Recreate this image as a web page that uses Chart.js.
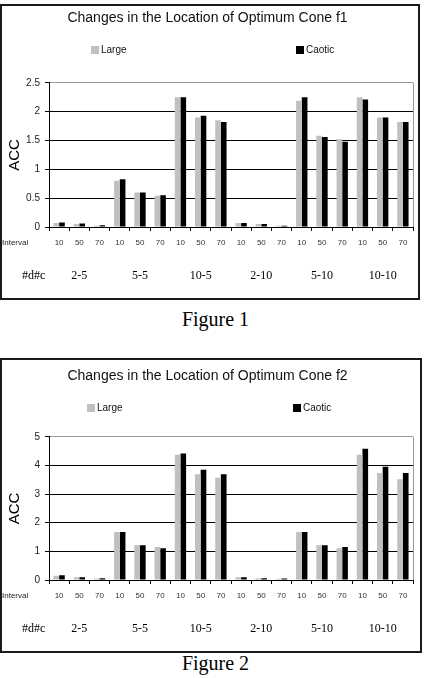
<!DOCTYPE html>
<html>
<head>
<meta charset="utf-8">
<title>Changes in the Location of Optimum Cone</title>
<script src="https://cdn.jsdelivr.net/npm/chart.js@4.4.1/dist/chart.umd.min.js"></script>
<style>
  body { margin: 0; background: #fff; width: 424px; height: 678px; position: relative; overflow: hidden; }
  .box { position: absolute; border: 2px solid #1a1a1a; background: #fff; }
  .box canvas { display: block; }
  .caption { position: absolute; left: 0; width: 431px; text-align: center;
    font-family: "Liberation Serif", "Times New Roman", serif; font-size: 20px; line-height: 20px; color: #000; }
</style>
</head>
<body>
<div class="box" style="left:0;top:4px;width:416px;height:292px;"><canvas id="f1"></canvas></div>
<div class="caption" style="top:309px;">Figure 1</div>
<div class="box" style="left:0;top:358px;width:418px;height:291px;"><canvas id="f2"></canvas></div>
<div class="caption" style="top:653px;">Figure 2</div>
<script>
const intervals = ['10', '50', '70'];
const groups = ['2-5', '5-5', '10-5', '2-10', '5-10', '10-10'];
const seriesNames = ['Large', 'Caotic'];
const rowTitleInterval = 'Interval';
const rowTitleGroup = '#d#c';

// f1
const f1Large  = [0.07, 0.05, 0.02, 0.80, 0.60, 0.54, 2.25, 1.90, 1.85, 0.07, 0.05, 0.02, 2.19, 1.58, 1.52, 2.25, 1.90, 1.82];
const f1Caotic = [0.08, 0.06, 0.03, 0.83, 0.60, 0.55, 2.25, 1.93, 1.82, 0.07, 0.05, 0.02, 2.25, 1.56, 1.48, 2.21, 1.90, 1.82];
// f2
const f2Large  = [0.15, 0.10, 0.05, 1.68, 1.21, 1.15, 4.37, 3.69, 3.57, 0.10, 0.06, 0.04, 1.68, 1.21, 1.11, 4.37, 3.74, 3.52];
const f2Caotic = [0.17, 0.10, 0.06, 1.68, 1.21, 1.11, 4.42, 3.85, 3.69, 0.10, 0.06, 0.05, 1.68, 1.21, 1.15, 4.58, 3.95, 3.74];

const xLabels = groups.flatMap(() => intervals);

const SANS = '"Liberation Sans", Arial, sans-serif';
const SERIF = '"Liberation Serif", "Times New Roman", serif';
Chart.defaults.font.family = SANS;

// legend spread wide + row titles on the left + gray plot border on the right
const paperPlugin = {
  id: 'paper',
  beforeDatasetsDraw(chart) {
    const { ctx, chartArea: a } = chart;
    ctx.save();
    ctx.strokeStyle = '#9a9a9a';
    ctx.lineWidth = 1;
    ctx.beginPath();
    ctx.moveTo(a.right + 0.5, a.top);
    ctx.lineTo(a.right + 0.5, a.bottom);
    ctx.stroke();
    ctx.restore();
  },
  afterDraw(chart, args, opts) {
    const { ctx, chartArea: a } = chart;
    ctx.save();
    ctx.textBaseline = 'middle';
    ctx.textAlign = 'left';
    chart.data.datasets.forEach((ds, i) => {
      const x = opts.xs[i];
      ctx.fillStyle = ds.backgroundColor;
      ctx.fillRect(x, opts.y - 4, 8, 8);
      ctx.fillStyle = '#111';
      ctx.font = '10px ' + SANS;
      ctx.fillText(ds.label, x + 10, opts.y);
    });
    ctx.fillStyle = '#222';
    ctx.font = '8px ' + SANS;
    ctx.fillText(rowTitleInterval, 0, a.bottom + 16);
    ctx.fillStyle = '#000';
    ctx.font = '12px ' + SERIF;
    ctx.fillText(rowTitleGroup, 20, a.bottom + 49);
    ctx.restore();
  }
};

function buildChart(id, title, large, caotic, yMax, yStep, look) {
  return new Chart(document.getElementById(id), {
    type: 'bar',
    data: {
      labels: xLabels,
      datasets: [
        { label: seriesNames[0], data: large, backgroundColor: '#c0c0c0', borderWidth: 0,
          categoryPercentage: 0.56, barPercentage: 1.0 },
        { label: seriesNames[1], data: caotic, backgroundColor: '#000000', borderWidth: 0,
          categoryPercentage: 0.56, barPercentage: 1.0 },
      ],
    },
    options: {
      responsive: true,
      maintainAspectRatio: false,
      animation: false,
      layout: { padding: { left: 0, right: look.padRight, top: 0, bottom: 0 } },
      plugins: {
        legend: { display: false },
        tooltip: { enabled: false },
        title: {
          display: true, text: title, color: '#111',
          font: { size: 14, weight: 'normal' },
          padding: { top: look.titleTop, bottom: look.titleBottom },
        },
        paper: { y: look.legendY, xs: look.legendX },
      },
      scales: {
        x: {
          grid: { display: true, drawOnChartArea: false, drawTicks: true, tickLength: 4,
                  color: '#000', offset: true },
          border: { display: true, color: '#000' },
          ticks: { color: '#333', font: { size: 8 }, padding: 7, maxRotation: 0, autoSkip: false },
          afterFit: (s) => { s.height = 22; },
        },
        x2: {
          type: 'category', labels: groups, position: 'bottom', weight: 1, offset: true,
          grid: { display: false, drawTicks: false },
          border: { display: false },
          ticks: { color: '#000', font: { family: SERIF, size: 12 }, padding: 20, maxRotation: 0 },
          afterFit: (s) => { s.height = 49; },
        },
        y: {
          min: 0, max: yMax,
          ticks: { stepSize: yStep, color: '#222', font: { size: 10 }, padding: 5,
                   callback: (v) => String(v) },
          grid: {
            color: (c) => (c.tick && c.tick.value === yMax ? '#9a9a9a' : '#000'),
            tickColor: '#000', tickLength: 4,
          },
          border: { color: '#000' },
          title: { display: true, text: 'ACC', color: '#000', font: { size: 15 },
                   padding: { top: 4, bottom: 0 } },
          afterFit: (s) => { s.width = 47; },
        },
      },
    },
    plugins: [paperPlugin],
  });
}

buildChart('f1', 'Changes in the Location of Optimum Cone f1', f1Large, f1Caotic, 2.5, 0.5,
  { padRight: 5, titleTop: 4, titleBottom: 56, legendY: 44, legendX: [89, 294] });
buildChart('f2', 'Changes in the Location of Optimum Cone f2', f2Large, f2Caotic, 5, 1,
  { padRight: 7, titleTop: 8, titleBottom: 52, legendY: 48, legendX: [85, 291] });
</script>
</body>
</html>
